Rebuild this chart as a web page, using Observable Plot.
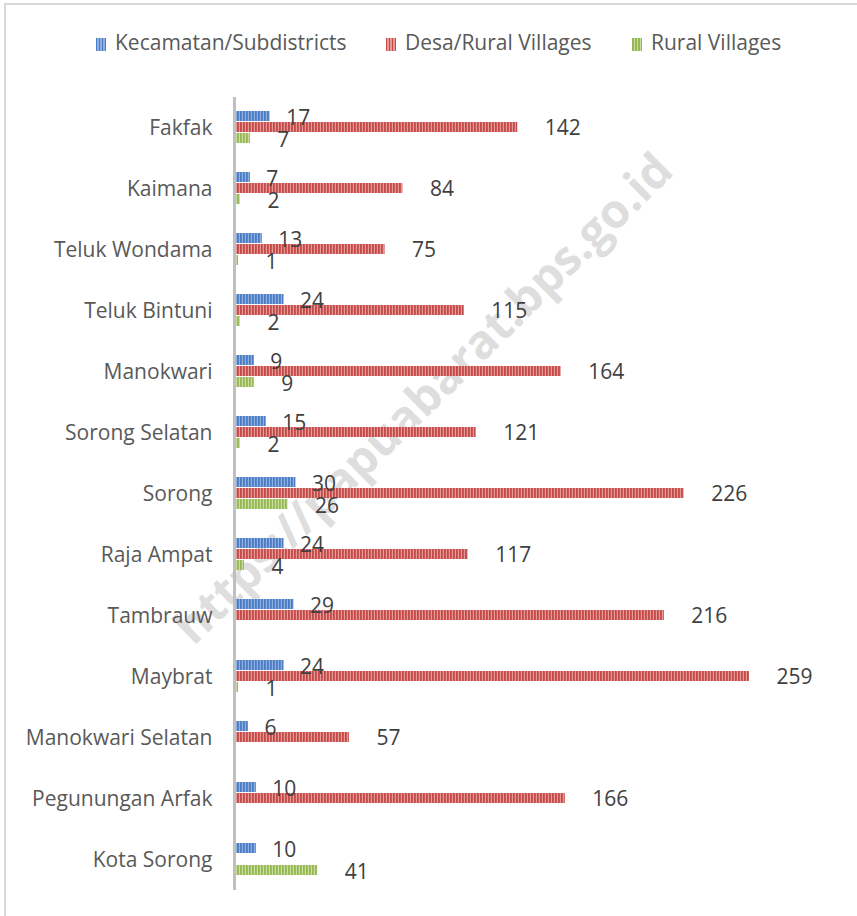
<!DOCTYPE html>
<html>
<head>
<meta charset="utf-8">
<script src="https://cdn.jsdelivr.net/npm/d3@7"></script>
<script src="https://cdn.jsdelivr.net/npm/@observablehq/plot@0.6"></script>
<style>
  html, body { margin: 0; padding: 0; background: #fff; }
  body { width: 857px; height: 916px; position: relative; overflow: hidden; font-family: "Open Sans", sans-serif; }
  #frame { position: absolute; left: 4px; top: 3px; width: 900px; height: 960px; border-left: 2px solid #d9d9d9; border-top: 2px solid #d9d9d9; }
  #legend { position: absolute; left: 0; top: 0; width: 857px; height: 80px; }
  .lg { position: absolute; top: 28px; font-size: 21px; color: #595959; line-height: 28px; white-space: nowrap; }
  .sw { display: inline-block; width: 10px; height: 13px; margin-right: 9px; vertical-align: -1px; }
  #wm { position: absolute; left: 422px; top: 397px; transform: translate(-50%, -50%) rotate(-44.5deg); font-size: 47px; font-weight: 700; color: #dedede; white-space: nowrap; z-index: 0; }
  #chart { position: absolute; left: 0; top: 80px; z-index: 1; }
</style>
</head>
<body>
<div id="frame"></div>
<div id="wm">https://papuabarat.bps.go.id</div>
<div id="legend"></div>
<div id="chart"></div>
<script>
const regions = ["Fakfak","Kaimana","Teluk Wondama","Teluk Bintuni","Manokwari","Sorong Selatan","Sorong","Raja Ampat","Tambrauw","Maybrat","Manokwari Selatan","Pegunungan Arfak","Kota Sorong"];
const seriesNames = ["Kecamatan/Subdistricts","Desa/Rural Villages","Rural Villages"];
const kecamatan = [17,7,13,24,9,15,30,24,29,24,6,10,10];
const desa = [142,84,75,115,164,121,226,117,216,259,57,166,null];
const rural = [7,2,1,2,9,2,26,4,null,1,null,null,41];
const seriesColors = ["#4a7cc4","#c44a47","#96b752"];
const seriesLight = ["#8fb0e0","#e59a98","#c9dda3"];
const patternIds = ["pBlue","pRed","pGreen"];

const seriesValues = [kecamatan, desa, rural];
const data = [];
regions.forEach((r, i) => {
  seriesNames.forEach((s, j) => {
    const v = seriesValues[j][i];
    if (v != null) data.push({region: r, series: s, value: v});
  });
});

// legend
const legend = document.getElementById("legend");
const legendX = [96, 386, 632];
seriesNames.forEach((s, j) => {
  const el = document.createElement("div");
  el.className = "lg";
  el.style.left = legendX[j] + "px";
  el.innerHTML = `<span class="sw" style="background:repeating-linear-gradient(90deg, ${seriesColors[j]} 0 1.5px, ${seriesLight[j]} 1.5px 3px)"></span>${s}`;
  legend.appendChild(el);
});

const labelDx = [16, 27, 27];
const labelDy = [2, 1, 2];

const chart = Plot.plot({
  width: 857,
  height: 836,
  marginLeft: 236,
  marginRight: 108,
  marginTop: 11,
  marginBottom: 20,
  style: {background: "transparent", fontFamily: "Open Sans, sans-serif"},
  x: {domain: [0, d3.max(data, d => d.value)], axis: null},
  y: {domain: seriesNames, axis: null, paddingOuter: 1.2, paddingInner: 0.08, align: 0.5},
  fy: {domain: regions, padding: 0, axis: "left", tickSize: 0, tickPadding: 24, label: null},
  color: {domain: seriesNames, range: patternIds.map(id => `url(#${id})`)},
  marks: [
    Plot.barX(data, {fy: "region", y: "series", x: "value", fill: "series"}),
    Plot.ruleX([0], {dx: -2, stroke: "#bfbfbf", strokeWidth: 3}),
    ...seriesNames.map((s, j) => Plot.text(data.filter(d => d.series === s), {
      fy: "region", y: "series", x: "value", text: d => String(d.value),
      textAnchor: "start", dx: labelDx[j], dy: labelDy[j], fontSize: 21, fill: "#404040"
    }))
  ]
});

const svg = chart.tagName.toLowerCase() === "svg" ? chart : chart.querySelector("svg");
const ns = "http://www.w3.org/2000/svg";
const defs = document.createElementNS(ns, "defs");
patternIds.forEach((id, j) => {
  const p = document.createElementNS(ns, "pattern");
  p.setAttribute("id", id);
  p.setAttribute("patternUnits", "userSpaceOnUse");
  p.setAttribute("width", "3");
  p.setAttribute("height", "4");
  const r1 = document.createElementNS(ns, "rect");
  r1.setAttribute("width", "3"); r1.setAttribute("height", "4"); r1.setAttribute("fill", seriesLight[j]);
  const r2 = document.createElementNS(ns, "rect");
  r2.setAttribute("width", "1.8"); r2.setAttribute("height", "4"); r2.setAttribute("fill", seriesColors[j]);
  p.appendChild(r1); p.appendChild(r2);
  defs.appendChild(p);
});
svg.insertBefore(defs, svg.firstChild);

svg.querySelectorAll("g[aria-label='fy-axis tick label'] text, g[aria-label='fy-axis'] text").forEach(t => {
  t.setAttribute("font-size", "21");
  t.setAttribute("fill", "#595959");
});
document.getElementById("chart").appendChild(chart);
</script>
</body>
</html>
